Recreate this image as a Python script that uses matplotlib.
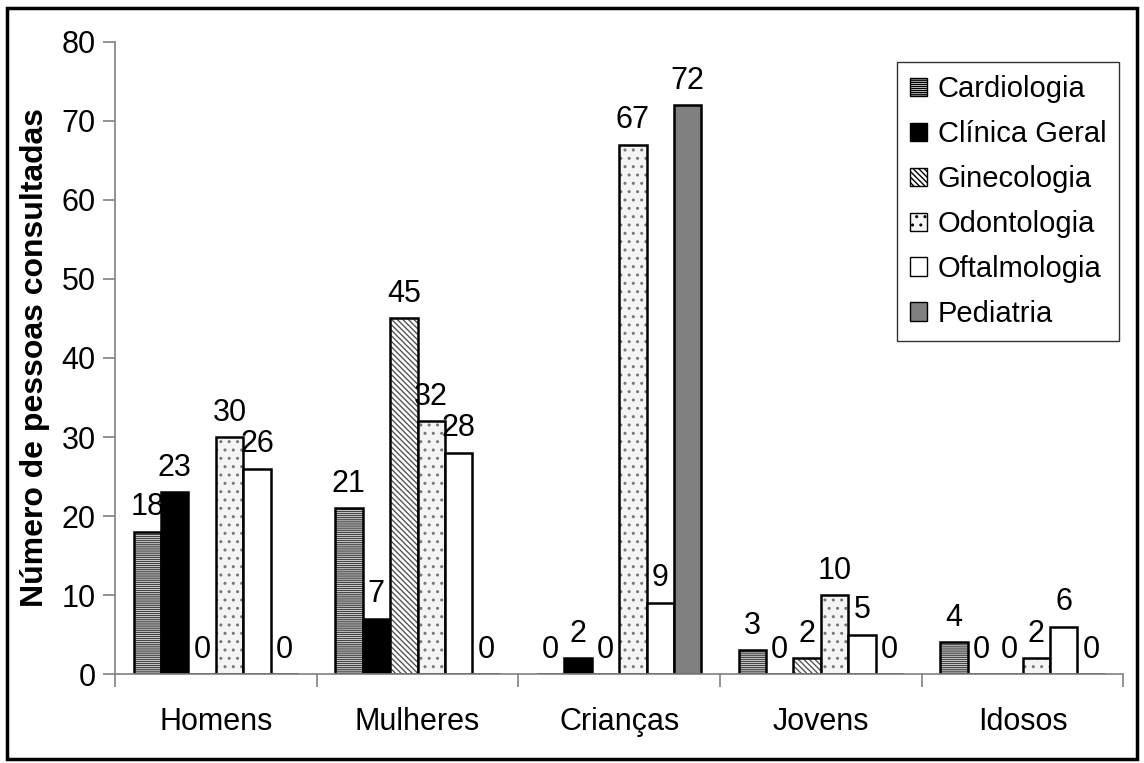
import numpy as np
import matplotlib.pyplot as plt
from matplotlib.patches import Rectangle, Patch

plt.rcParams['font.family'] = ['Liberation Sans', 'DejaVu Sans']

grupos = ['Homens', 'Mulheres', 'Crianças', 'Jovens', 'Idosos']
especialidades = ['Cardiologia', 'Clínica Geral', 'Ginecologia',
                  'Odontologia', 'Oftalmologia', 'Pediatria']
cardiologia = [18, 21, 0, 3, 4]
clinica_geral = [23, 7, 2, 0, 0]
ginecologia = [0, 45, 0, 2, 0]
odontologia = [30, 32, 67, 10, 2]
oftalmologia = [26, 28, 9, 5, 6]
pediatria = [0, 0, 72, 0, 0]
valores = [cardiologia, clinica_geral, ginecologia, odontologia, oftalmologia, pediatria]

# estilo de cada especialidade: (cor de fundo, hachura, cor da hachura)
estilos = [
    ('white', '--------', '#444444'),
    ('black', '', 'black'),
    ('white', '\\\\\\\\\\\\', '#555555'),
    ('#f4f4f4', '..', '#777777'),
    ('white', '', 'black'),
    ('#808080', '', 'black'),
]

fig = plt.figure(figsize=(11.44, 7.63), dpi=100)
ax = fig.add_axes([0.1005, 0.1166, 0.8815, 0.8284])

x = np.arange(len(grupos))
w = 0.136
handles = []
for j, (nome, vals) in enumerate(zip(especialidades, valores)):
    fc, hatch, hc = estilos[j]
    pos = x + (j - 2.5) * w
    if hatch:
        ax.bar(pos, vals, w, color=fc, hatch=hatch, edgecolor=hc, linewidth=0)
        ax.bar(pos, vals, w, facecolor='none', edgecolor='black', linewidth=1.8)
    else:
        ax.bar(pos, vals, w, color=fc, edgecolor='black', linewidth=1.8)
    handles.append(Patch(facecolor=fc, hatch=hatch, edgecolor='black', linewidth=1.0, label=nome))
    for p, v in zip(pos, vals):
        ax.text(p, v + 1.2, str(v), ha='center', va='bottom', fontsize=22)

ax.set_xlim(-0.5, 4.5)
ax.set_ylim(0, 80)
ax.set_yticks(range(0, 81, 10))
ax.set_xticks(np.arange(-0.5, 5, 1))
ax.set_xticklabels([])
ax.set_xticks(x, minor=True)
ax.set_xticklabels(grupos, minor=True, fontsize=22)
ax.tick_params(axis='x', which='minor', length=0, pad=24)
ax.tick_params(axis='x', which='major', length=9, width=1.2, color='#808080')
ax.tick_params(axis='y', length=9, width=1.2, color='#808080', labelsize=22, pad=5)
for s in ['top', 'right']:
    ax.spines[s].set_visible(False)
for s in ['left', 'bottom']:
    ax.spines[s].set_color('#808080')
    ax.spines[s].set_linewidth(1.2)

ax.set_ylabel('Número de pessoas consultadas', fontsize=23, fontweight='bold', labelpad=8)

leg = ax.legend(handles=handles, loc='upper right', bbox_to_anchor=(0.996, 0.968),
                fontsize=21, frameon=True, fancybox=False, edgecolor='black',
                handlelength=0.6, handleheight=0.6, handletextpad=0.35,
                labelspacing=0.58, borderpad=0.45, borderaxespad=0)
leg.get_frame().set_linewidth(1.0)

fig.patches.append(Rectangle((7 / 1144, 1 - 759 / 763), 1130 / 1144, 751 / 763,
                             transform=fig.transFigure, fill=False,
                             edgecolor='black', linewidth=2.5))

fig.savefig('out.png', dpi=100)
